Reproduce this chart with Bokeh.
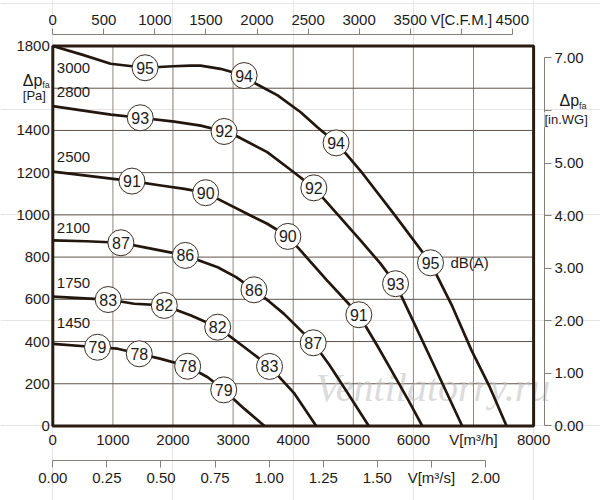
from bokeh.plotting import figure
from bokeh.models import LinearAxis, Range1d, FixedTicker, PrintfTickFormatter, Label
from bokeh.core.properties import value
from bokeh.embed import file_html
from bokeh.resources import INLINE

# ---------------- data ----------------
speeds = ["3000", "2800", "2500", "2100", "1750", "1450"]

flow_3000 = [0, 500, 962, 1536, 2000, 2291, 2458, 2790, 3183, 3380, 3741, 4125, 4403, 4713, 4880,
             5120, 5700, 6285, 6650, 6967, 7270, 7550]
pres_3000 = [1800, 1758, 1716, 1697, 1704, 1707, 1707, 1692, 1660, 1621, 1566, 1486, 1415, 1341, 1289,
             1209, 995, 773, 565, 358, 185, 0]
flow_2800 = [0, 480, 967, 1455, 2022, 2462, 2850, 3040, 3568, 4010, 4343, 4510, 5120, 5450, 5703, 6318, 6812]
pres_2800 = [1515, 1495, 1475, 1460, 1442, 1423, 1395, 1376, 1297, 1202, 1128, 1076, 879, 770, 674, 302, 0]
flow_2500 = [0, 522, 1317, 1800, 2190, 2543, 2736, 3290, 3568, 3911, 4110, 4566, 5092, 5400, 5660, 5920, 6147]
pres_2500 = [1205, 1187, 1160, 1139, 1123, 1105, 1077, 997, 958, 898, 835, 689, 527, 380, 250, 120, 0]
flow_2100 = [0, 560, 1133, 1633, 2206, 2744, 3050, 3347, 3600, 3847, 4100, 4333, 4600, 4879, 5258]
pres_2100 = [879, 875, 868, 840, 808, 752, 705, 645, 590, 531, 460, 394, 290, 168, 0]
flow_1750 = [0, 922, 1356, 1856, 2300, 2744, 3189, 3606, 4022, 4383]
pres_1750 = [613, 599, 579, 571, 523, 468, 373, 282, 153, 0]
flow_1450 = [0, 744, 1078, 1439, 1800, 2244, 2578, 2844, 3189, 3522]
pres_1450 = [389, 373, 366, 342, 318, 283, 231, 171, 81, 0]

curves_flow = [flow_3000, flow_2800, flow_2500, flow_2100, flow_1750, flow_1450]
curves_pres = [pres_3000, pres_2800, pres_2500, pres_2100, pres_1750, pres_1450]

# sound level markers dB(A)
db_flow = [1536, 3183, 4713, 6285,
           1455, 2850, 4343, 5703,
           1317, 2543, 3911, 5092,
           1133, 2206, 3347, 4333,
           922, 1856, 2744, 3606,
           744, 1439, 2244, 2844]
db_pres = [1697, 1660, 1341, 773,
           1460, 1395, 1128, 674,
           1160, 1105, 898, 527,
           868, 808, 645, 394,
           599, 571, 468, 282,
           373, 342, 283, 171]
db_vals = ["95", "94", "94", "95",
           "93", "92", "92", "93",
           "91", "90", "90", "91",
           "87", "86", "86", "87",
           "83", "82", "82", "83",
           "79", "78", "78", "79"]

# rpm label anchors
speed_lab_flow = [67, 67, 67, 67, 67, 67]
speed_lab_pres = [1698, 1580, 1272, 940, 675, 490]

flow_ticks = [0, 1000, 2000, 3000, 4000, 5000, 6000, 7000, 8000]
pres_ticks = [0, 200, 400, 600, 800, 1000, 1200, 1400, 1600, 1800]
cfm_ticks = [0, 500, 1000, 1500, 2000, 2500, 3000, 3500, 4000, 4500]
inwg_ticks = [0, 1, 2, 3, 4, 5, 6, 7]
m3s_ticks = [0, 0.25, 0.5, 0.75, 1.0, 1.25, 1.5, 1.75, 2.0]

M3H_PER_CFM = 1.69901
PA_PER_INWG = 249.089
M3H_PER_M3S = 3600.0

# ---------------- layout / style ----------------
FONT = "Liberation Sans"
TXT = "#1e1b19"
CURVE = "#22170f"
FRAME = "#2a1c12"
GRID_H = "#5e534a"
GRID_V = "#8e8984"
AXC = "#85807b"

W, H = 600, 500
X_START, X_END = -870.0, 9113.0      # whole canvas in m3/h
Y_START, Y_END = -353.0, 2015.5      # whole canvas in Pa
TOP_AXIS_AT = 1854.5                 # Pa level of the C.F.M. scale line
RIGHT_AXIS_AT = 8181.0               # m3/h position of the in.WG scale line
M3S_AXIS_AT = -163.4                 # Pa level of the m3/s scale line

p = figure(width=W, height=H,
           x_range=Range1d(X_START, X_END), y_range=Range1d(Y_START, Y_END),
           x_axis_location=None, y_axis_location=None,
           output_backend="svg", toolbar_location=None, min_border=0)
p.outline_line_color = None
p.background_fill_color = "white"
p.border_fill_color = "white"

p.extra_x_ranges = {
    "cfm": Range1d(X_START / M3H_PER_CFM, X_END / M3H_PER_CFM),
    "m3s": Range1d(X_START / M3H_PER_M3S, X_END / M3H_PER_M3S),
}
p.extra_y_ranges = {"inwg": Range1d(Y_START / PA_PER_INWG, Y_END / PA_PER_INWG)}


def base_style(ax, size="15px"):
    ax.major_label_text_font = FONT
    ax.major_label_text_font_size = size
    ax.major_label_text_color = TXT
    ax.minor_tick_line_color = None
    ax.minor_tick_out = 0
    ax.minor_tick_in = 0
    ax.major_tick_in = 0


# left axis (Pa)
ly = LinearAxis(ticker=FixedTicker(ticks=pres_ticks), fixed_location=0)
base_style(ly)
ly.axis_line_color = None
ly.major_tick_line_color = None
ly.major_tick_out = 0
ly.major_label_standoff = 3
ly.major_label_overrides = {1600: ""}
p.add_layout(ly, "left")

# bottom axis (m3/h)
bx = LinearAxis(ticker=FixedTicker(ticks=flow_ticks), fixed_location=0)
base_style(bx)
bx.axis_line_color = None
bx.major_tick_line_color = None
bx.major_tick_out = 0
bx.major_label_standoff = 5
bx.major_label_overrides = {7000: "V[m³/h]"}
p.add_layout(bx, "below")

# bottom axis (m3/s)
sx = LinearAxis(x_range_name="m3s", ticker=FixedTicker(ticks=m3s_ticks),
                formatter=PrintfTickFormatter(format="%.2f"), bounds=(0, 2),
                fixed_location=M3S_AXIS_AT)
base_style(sx)
sx.axis_line_color = AXC
sx.major_tick_line_color = AXC
sx.major_tick_out = 7
sx.major_label_standoff = 2
sx.major_label_overrides = {1.75: "V[m³/s]"}
p.add_layout(sx, "below")

# top axis (CFM)
tx = LinearAxis(x_range_name="cfm", ticker=FixedTicker(ticks=cfm_ticks), bounds=(0, 4500),
                fixed_location=TOP_AXIS_AT)
base_style(tx)
tx.axis_line_color = AXC
tx.major_tick_line_color = AXC
tx.major_tick_out = 6
tx.major_label_standoff = 0
tx.major_label_overrides = {4000: "V[C.F.M.]"}
p.add_layout(tx, "above")

# right axis (in.WG)
ry = LinearAxis(y_range_name="inwg", ticker=FixedTicker(ticks=inwg_ticks),
                formatter=PrintfTickFormatter(format="%.2f"), bounds=(0, 7),
                fixed_location=RIGHT_AXIS_AT)
base_style(ry)
ry.axis_line_color = AXC
ry.major_tick_line_color = AXC
ry.major_tick_out = 7
ry.major_label_standoff = 3
ry.major_label_overrides = {6: ""}
p.add_layout(ry, "right")

# grid lines limited to the chart box
v_grid = flow_ticks[1:-1]
h_grid = pres_ticks[1:-1]
p.segment(x0=v_grid, y0=[pres_ticks[0]] * len(v_grid), x1=v_grid, y1=[pres_ticks[-1]] * len(v_grid),
          line_color=GRID_V, line_width=1)
p.segment(x0=[flow_ticks[0]] * len(h_grid), y0=h_grid, x1=[flow_ticks[-1]] * len(h_grid), y1=h_grid,
          line_color=GRID_H, line_width=1)

# watermark
p.text(x=[4376], y=[182], text=["Ventilatorry.ru"], text_font=value("Liberation Serif"),
       text_font_style="italic", text_font_size="40px", text_color="#c4c4c4", text_alpha=0.6,
       text_align="left", text_baseline="middle")

# chart box
p.quad(left=[flow_ticks[0]], right=[flow_ticks[-1]], bottom=[pres_ticks[0]], top=[pres_ticks[-1]],
       fill_color=None, line_color=FRAME, line_width=3)

# fan curves
for fq, pp in zip(curves_flow, curves_pres):
    p.line(fq, pp, line_color=CURVE, line_width=2.7, line_join="round")

# dB markers
p.scatter(db_flow, db_pres, marker="circle", size=26, fill_color="white",
          line_color="#3a2d24", line_width=1)
p.text(x=db_flow, y=db_pres, text=db_vals, text_align="center", text_baseline="middle",
       text_font=value(FONT), text_font_size="16px", text_color=TXT)

# rpm labels
p.text(x=speed_lab_flow, y=speed_lab_pres, text=speeds, text_align="left", text_baseline="middle",
       text_font=value(FONT), text_font_size="15px", text_color=TXT)

# dB(A) unit text
p.text(x=[6617], y=[773], text=["dB(A)"], text_align="left", text_baseline="middle",
       text_font=value(FONT), text_font_size="15px", text_color=TXT)

# pressure scale titles
p.add_layout(Label(x=0, y=1600, x_offset=-30, y_offset=8, text="Δp", text_font=FONT,
                   text_font_size="16px", text_color=TXT, text_baseline="middle", text_align="left"))
p.add_layout(Label(x=0, y=1600, x_offset=-10.5, y_offset=3, text="fa", text_font=FONT,
                   text_font_size="9px", text_color=TXT, text_baseline="middle", text_align="left"))
p.add_layout(Label(x=0, y=1600, x_offset=-30, y_offset=-7, text="[Pa]", text_font=FONT,
                   text_font_size="13px", text_color=TXT, text_baseline="middle", text_align="left"))

p.add_layout(Label(x=RIGHT_AXIS_AT, y=6, y_range_name="inwg", x_offset=15, y_offset=10, text="Δp",
                   text_font=FONT, text_font_size="16px", text_color=TXT,
                   text_baseline="middle", text_align="left"))
p.add_layout(Label(x=RIGHT_AXIS_AT, y=6, y_range_name="inwg", x_offset=34.5, y_offset=4, text="fa",
                   text_font=FONT, text_font_size="9px", text_color=TXT,
                   text_baseline="middle", text_align="left"))
p.add_layout(Label(x=RIGHT_AXIS_AT, y=6, y_range_name="inwg", x_offset=0, y_offset=-9, text="[in.WG]",
                   text_font=FONT, text_font_size="13px", text_color=TXT,
                   text_baseline="middle", text_align="left", background_fill_color="white"))

open("out.html", "w").write(file_html(p, INLINE))
